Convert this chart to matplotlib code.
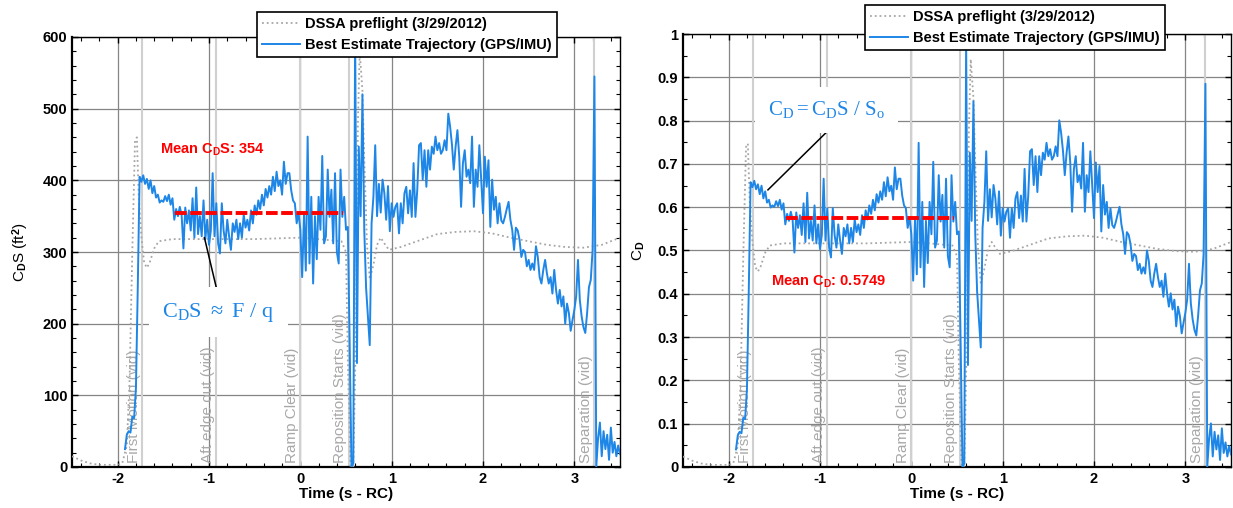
import numpy as np
import matplotlib
matplotlib.use('Agg')
import matplotlib.pyplot as plt
from matplotlib.ticker import MultipleLocator, FuncFormatter

plt.rcParams['font.family'] = 'Liberation Sans'
plt.rcParams['font.weight'] = 'bold'
plt.rcParams['mathtext.fontset'] = 'custom'
# roman math text -> regular Times-like serif, bold math -> Arial-like bold
plt.rcParams['mathtext.rm'] = 'Liberation Serif:weight=normal'
plt.rcParams['mathtext.it'] = 'Liberation Serif:weight=normal'
plt.rcParams['mathtext.bf'] = 'Liberation Sans:bold'

# ---- data -------------------------------------------------------------
# best estimate trajectory C_D*S (ft^2), sampled every 0.02 s from -1.92 s
bet_t0 = -1.92
bet_dt = 0.02
bet_cds = [
    25, 45, 50, 48, 70, 68, 110, 250, 405, 398,
    407, 395, 402, 388, 400, 382, 392, 376, 380, 369,
    372, 370, 378, 371, 380, 366, 375, 345, 360, 350,
    363, 352, 305, 362, 340, 358, 330, 375, 320, 390,
    325, 350, 322, 372, 318, 345, 310, 330, 410, 322,
    368, 312, 298, 368, 330, 312, 345, 322, 303, 340,
    328, 345, 318, 340, 320, 352, 334, 345, 330, 358,
    340, 365, 352, 372, 360, 380, 365, 388, 376, 392,
    380, 405, 385, 412, 392, 400, 380, 426, 395, 410,
    410, 386, 372, 368, 340, 355, 331, 265, 352, 274,
    461, 284, 377, 256, 350, 290, 377, 331, 434, 312,
    322, 415, 349, 387, 312, 410, 300, 284, 415, 349,
    377, 331, 335, 173, 0, 5, 610, 145, 447, 350,
    520, 331, 250, 210, 170, 340, 377, 449, 350, 395,
    355, 401, 382, 345, 392, 329, 368, 349, 363, 368,
    326, 368, 340, 382, 391, 354, 386, 349, 424, 349,
    386, 449, 452, 401, 442, 391, 442, 415, 447, 437,
    461, 442, 452, 437, 442, 456, 442, 493, 475, 450,
    415, 447, 470, 433, 363, 424, 442, 405, 415, 396,
    461, 363, 415, 391, 449, 401, 354, 433, 391, 428,
    335, 401, 359, 377, 340, 368, 344, 340, 349, 360,
    370, 345, 331, 303, 334, 330, 317, 293, 303, 300,
    280, 289, 275, 284, 275, 308, 293, 265, 256, 275,
    289, 270, 256, 265, 242, 275, 247, 228, 247, 224,
    238, 200, 228, 215, 190, 205, 219, 238, 289, 233,
    210, 195, 187, 215, 251, 261, 303, 545, 0, 40,
    62, 15, 50, 25, 45, 10, 55, 20, 35, 15,
    30, 18,
]

# DSSA preflight prediction
dssa_t = [-2.5, -2.4, -2.3, -2.2, -2.1, -2.0, -1.95, -1.9, -1.87, -1.84,
          -1.81, -1.79, -1.77, -1.74, -1.71, -1.68, -1.65, -1.6, -1.55, -1.5,
          -1.4, -1.2, -1.0, -0.5, 0.0, 0.2, 0.45, 0.5, 0.52, 0.55,
          0.58, 0.61, 0.63, 0.65, 0.68, 0.7, 0.73, 0.76, 0.8, 0.84,
          0.88, 0.92, 0.97, 1.1, 1.3, 1.5, 1.7, 1.9, 2.1, 2.3,
          2.5, 2.7, 2.9, 3.1, 3.3, 3.5]
dssa_cds = [15, 9, 5, 3, 3, 3, 5, 30, 120, 300,
            455, 460, 380, 320, 285, 278, 285, 305, 315, 316,
            318, 318, 318, 318, 320, 318, 315, 300, 150, 0,
            0, 200, 480, 580, 525, 430, 310, 262, 282, 310,
            320, 312, 303, 307, 316, 325, 328, 329, 326, 320,
            315, 310, 307, 306, 310, 320]

# video events
event_t = [-1.73, -0.92, 0.0, 0.53, 3.22]
event_names = ['First Motion (vid)', 'Aft edge out (vid)', 'Ramp Clear (vid)',
               'Reposition Starts (vid)', 'Separation (vid)']

mean_cds = 354
mean_cd = 0.5749
mean_span = [-1.37, 0.465]
s_ref = mean_cds / mean_cd   # reference area S_o

t_bet = bet_t0 + bet_dt * np.arange(len(bet_cds))
cds = np.array(bet_cds, dtype=float)
dssa = np.array(dssa_cds, dtype=float)

BLUE = '#1e86e6'
GRAY_DOT = '#a6a6a6'


def style_axes(ax, ymax, ymajor, yminor, fmt):
    ax.set_xlim(-2.5, 3.5)
    ax.set_ylim(0, ymax)
    ax.xaxis.set_major_locator(MultipleLocator(1))
    ax.xaxis.set_minor_locator(MultipleLocator(0.2))
    ax.yaxis.set_major_locator(MultipleLocator(ymajor))
    ax.yaxis.set_minor_locator(MultipleLocator(yminor))
    ax.yaxis.set_major_formatter(FuncFormatter(fmt))
    ax.xaxis.set_major_formatter(FuncFormatter(lambda v, p: '%g' % v))
    ax.grid(True, which='major', color='#858585', lw=0.9, zorder=0)
    ax.set_axisbelow(True)
    ax.tick_params(which='both', direction='in', top=True, right=True,
                   labelsize=10.5, color='k')
    ax.tick_params(which='major', length=4, width=1)
    ax.tick_params(which='minor', length=3, width=0.8)
    for s in ['left', 'bottom']:
        ax.spines[s].set_linewidth(1.6)
    for s in ['top', 'right']:
        ax.spines[s].set_linewidth(1.0)
    ax.set_xlabel('Time (s - RC)', fontsize=11, fontweight='bold', labelpad=1)
    for t, name in zip(event_t, event_names):
        ax.axvline(t, color='#d0d0d0', lw=1.5, zorder=1)
        ax.annotate(name, xy=(t, 0), xytext=(-1, 3), textcoords='offset points',
                    rotation=90, ha='right', va='bottom', color='#a8a8a8',
                    fontsize=11, fontweight='normal', zorder=2)


def add_legend(ax, handles, corner):
    leg = ax.legend(handles=handles, loc='upper right', bbox_to_anchor=corner,
                    bbox_transform=fig.transFigure, fontsize=10.5, fancybox=False,
                    framealpha=1, edgecolor='k', borderaxespad=0, handlelength=2.6,
                    handletextpad=0.35, labelspacing=0.45, borderpad=0.35)
    leg.get_frame().set_linewidth(1.2)
    leg.set_zorder(10)
    return leg


fig = plt.figure(figsize=(12.33, 5.08), dpi=100)
ax1 = fig.add_axes([72 / 1233, 41 / 508, 548 / 1233, 430 / 508])
ax2 = fig.add_axes([683 / 1233, 41 / 508, 548 / 1233, 433 / 508])

note_box = dict(boxstyle='square,pad=0.6', fc='white', ec='none')

# ---- left: C_D S ----------------------------------------------------------
style_axes(ax1, 600, 100, 20, lambda v, p: '%d' % v)
l_dssa, = ax1.plot(dssa_t, dssa, ls=':', color=GRAY_DOT, lw=1.3, zorder=3,
                   label='DSSA preflight (3/29/2012)')
l_bet, = ax1.plot(t_bet, cds, color=BLUE, lw=1.4, zorder=4,
                  label='Best Estimate Trajectory (GPS/IMU)')
ax1.plot(mean_span, [mean_cds, mean_cds], color='red', lw=2.8,
         ls=(0, (3.0, 0.9)), zorder=6)
ax1.text(-0.96, 443, r'Mean C$_\mathbf{D}$S: %d' % mean_cds, color='red',
         fontsize=10.5, ha='center', va='center', zorder=7)
ax1.plot([-1.05, -0.91], [320, 245], color='k', lw=1.1, zorder=7)
ax1.text(-0.9, 216, r'$\mathrm{C_DS\ \approx\ F\ /\ q}$', color=BLUE, fontsize=16,
         fontweight='normal', ha='center', va='center', zorder=8, bbox=note_box)
ax1.set_ylabel(r'C$_\mathbf{D}$S (ft$^\mathbf{2}$)', fontsize=11)
ax1.yaxis.set_label_coords(-0.075, 0.5)
add_legend(ax1, [l_dssa, l_bet], (557 / 1233, 1 - 12 / 508))

# ---- right: C_D -----------------------------------------------------------
style_axes(ax2, 1, 0.1, 0.05, lambda v, p: '%g' % round(v, 2))
r_dssa, = ax2.plot(dssa_t, dssa / s_ref, ls=':', color=GRAY_DOT, lw=1.3, zorder=3,
                   label='DSSA preflight (3/29/2012)')
r_bet, = ax2.plot(t_bet, cds / s_ref, color=BLUE, lw=1.4, zorder=4,
                  label='Best Estimate Trajectory (GPS/IMU)')
ax2.plot(mean_span, [mean_cd, mean_cd], color='red', lw=2.8,
         ls=(0, (3.0, 0.9)), zorder=6)
ax2.text(-0.91, 0.428, r'Mean C$_\mathbf{D}$: %.4f' % mean_cd, color='red',
         fontsize=10.5, ha='center', va='center', zorder=7)
ax2.plot([-0.92, -1.57], [0.775, 0.64], color='k', lw=1.1, zorder=7)
ax2.text(-0.93, 0.825, r'$\mathrm{C_D = C_DS\ /\ S_o}$', color=BLUE, fontsize=15,
         fontweight='normal', ha='center', va='center', zorder=8, bbox=note_box)
ax2.set_ylabel(r'C$_\mathbf{D}$', fontsize=11)
ax2.yaxis.set_label_coords(-0.065, 0.5)
add_legend(ax2, [r_dssa, r_bet], (1165 / 1233, 1 - 5 / 508))

fig.savefig('out.png', dpi=100)
